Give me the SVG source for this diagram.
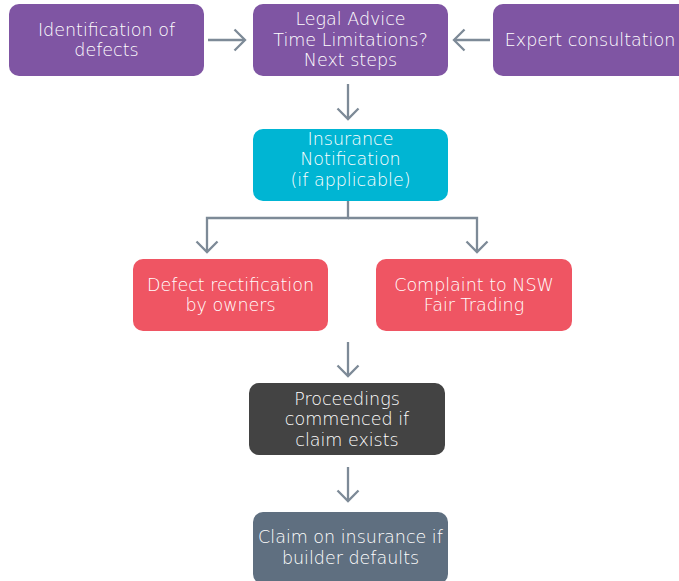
<svg xmlns="http://www.w3.org/2000/svg" width="679" height="581" viewBox="0 0 679 581">
<style>
.t{font-family:"DejaVu Sans","Open Sans","Liberation Sans",sans-serif;font-size:17.5px;fill:#ffffff;text-anchor:middle;font-weight:300}
.c{fill:none;stroke:#7d8a97;stroke-width:2.3}
.p{fill:#7f55a3}
</style>
<defs>
<marker id="ah" markerWidth="14" markerHeight="24" viewBox="0 0 14 24" refX="12" refY="12" orient="auto" markerUnits="userSpaceOnUse">
<path d="M1.5,1.5 L12,12 L1.5,22.5" fill="none" stroke="#7d8a97" stroke-width="2.3"/>
</marker>
</defs>
<rect width="679" height="581" fill="#ffffff"/>
<g id="connectors">
<path class="c" d="M208,40 H245" marker-end="url(#ah)"/>
<path class="c" d="M490,40 H454" marker-end="url(#ah)"/>
<path class="c" d="M348,84 V119" marker-end="url(#ah)"/>
<path class="c" d="M348,201 V218 H207 V252" marker-end="url(#ah)"/>
<path class="c" d="M348,218 H477 V252" marker-end="url(#ah)"/>
<path class="c" d="M348,342 V376" marker-end="url(#ah)"/>
<path class="c" d="M348,467 V501" marker-end="url(#ah)"/>
</g>
<g id="n1"><rect class="p" x="9" y="4" width="195" height="72" rx="10"/>
<text class="t" x="106.5" y="36">Identification of</text><text class="t" x="106.5" y="56">defects</text></g>
<g id="n2"><rect class="p" x="253" y="4" width="195" height="72" rx="10"/>
<text class="t" x="350.5" y="25">Legal Advice</text><text class="t" x="350.5" y="46">Time Limitations?</text><text class="t" x="350.5" y="66">Next steps</text></g>
<g id="n3"><rect class="p" x="493" y="4" width="195" height="72" rx="10"/>
<text class="t" x="590" y="46">Expert consultation</text></g>
<g id="n4"><rect fill="#00b5d3" x="253" y="129" width="195" height="72" rx="10"/>
<text class="t" x="350.5" y="145">Insurance</text><text class="t" x="350.5" y="165">Notification</text><text class="t" x="350.5" y="186">(if applicable)</text></g>
<g id="n5"><rect fill="#ef5563" x="133" y="259" width="195" height="72" rx="10"/>
<text class="t" x="230.5" y="291">Defect rectification</text><text class="t" x="230.5" y="311">by owners</text></g>
<g id="n6"><rect fill="#ef5563" x="376" y="259" width="196" height="72" rx="10"/>
<text class="t" x="474" y="291">Complaint to NSW</text><text class="t" x="474" y="311">Fair Trading</text></g>
<g id="n7"><rect fill="#434343" x="249" y="383" width="196" height="72" rx="10"/>
<text class="t" x="347" y="405">Proceedings</text><text class="t" x="347" y="425">commenced if</text><text class="t" x="347" y="446">claim exists</text></g>
<g id="n8"><rect fill="#5f6f80" x="253" y="512" width="195" height="72" rx="10"/>
<text class="t" x="350.5" y="543">Claim on insurance if</text><text class="t" x="350.5" y="564">builder defaults</text></g>
</svg>
